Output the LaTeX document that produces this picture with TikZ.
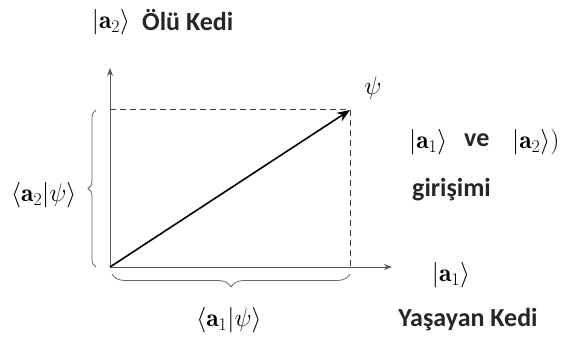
\RequirePackage{fix-cm}
\documentclass[tikz,border=0pt]{standalone}
\usepackage{fontspec}
\newfontfamily\lblfont{Carlito}
\usetikzlibrary{decorations.pathreplacing,arrows.meta}
\begin{document}
\begin{tikzpicture}[x=1pt,y=-1pt,
  lab/.style={font=\fontsize{26}{30}\selectfont\lblfont\bfseries, text=black!85, inner sep=0pt},
  mth/.style={font=\fontsize{25.5}{29}\selectfont, inner sep=0pt},
  axis/.style={line width=0.9pt, draw=black!65, -{Stealth[length=8pt,width=6pt]}},
  vec/.style={line width=1.6pt, draw=black, -{Stealth[length=13pt,width=10pt]}},
  dash line/.style={line width=1pt, draw=black!75, dash pattern=on 6pt off 4pt},
  bracebig/.style={line width=0.8pt, draw=black!60, decorate, decoration={brace, amplitude=#1}}]
\useasboundingbox (0,0) rectangle (568,358);
% coordinates
\coordinate (O) at (110,267);
\coordinate (Yt) at (110,68);
\coordinate (Xt) at (392,267);
\coordinate (P) at (350,110);
\coordinate (Q) at (110,110);
\coordinate (R) at (350,267);
\coordinate (Lb) at (96,267);
\coordinate (Lt) at (96,110);
\coordinate (Br) at (350,274);
\coordinate (Bl) at (112,274);
% axes
\draw[axis] (O) -- (Yt);
\draw[axis] (O) -- (Xt);
% dashed projections
\draw[dash line] (Q) -- (P);
\draw[dash line] (P) -- (R);
% state vector
\draw[vec] (O) -- (P);
% braces
\draw[bracebig=8pt] (Lb) -- (Lt);
\draw[bracebig=13pt] (Br) -- (Bl);
% labels
\node[mth] (a2top) at (111,22) {$|\mathbf{a}_2\rangle$};
\node[lab, anchor=west] (olu) at (142,20) {Ölü Kedi};
\node[mth] (psi) at (373,88) {$\psi$};
\node[mth, anchor=west] (a1mid) at (409,142) {$|\mathbf{a}_1\rangle$};
\node[lab, anchor=west] (ve) at (464,140) {ve};
\node[mth, anchor=west] (a2mid) at (512,142) {$|\mathbf{a}_2\rangle)$};
\node[lab, anchor=west] (gir) at (412,190) {girişimi};
\node[mth, anchor=west] (p2) at (11,195) {$\langle\mathbf{a}_2|\psi\rangle$};
\node[mth] (p1) at (229,320) {$\langle\mathbf{a}_1|\psi\rangle$};
\node[mth] (a1r) at (451,275) {$|\mathbf{a}_1\rangle$};
\node[lab] (yas) at (468,320) {Yaşayan Kedi};
\end{tikzpicture}
\end{document}
